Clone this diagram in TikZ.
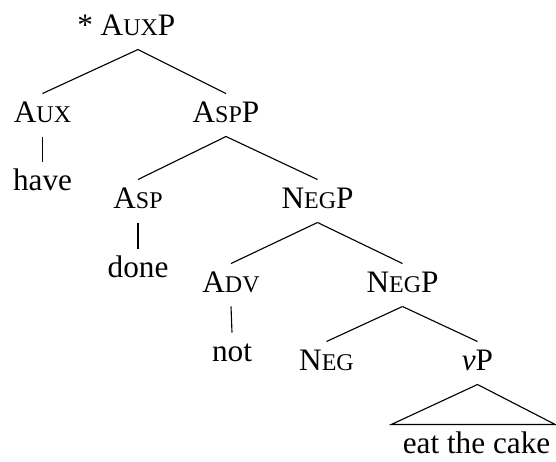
\documentclass[tikz,border=0pt]{standalone}
\usepackage{fontspec}
\setmainfont{Liberation Serif}
\newcommand\SmC[1]{{\fontsize{9.6}{10}\selectfont #1}}
\begin{document}
\begin{tikzpicture}[x=0.4pt,y=-0.4pt,
  lab/.style={anchor=base,font=\fontsize{12.5}{14}\selectfont,inner xsep=0pt,inner ysep=3.2pt,text height=8pt,text depth=2.4pt},
  edge/.style={line width=0.45pt}]
\useasboundingbox (0,0) rectangle (556,462);
\node[lab] (auxp) at (138,35) {\llap{*\ }A\SmC{UX}P};
\node[lab] (aux) at (42.5,122) {A\SmC{UX}};
\node[lab] (aspp) at (226,122) {A\SmC{SP}P};
\node[lab] (have) at (42.5,190) {have};
\node[lab] (asp) at (138,208) {A\SmC{SP}};
\node[lab] (negp1) at (317.5,208) {N\SmC{EG}P};
\node[lab] (done) at (138,277) {done};
\node[lab] (adv) at (231,292) {A\SmC{DV}};
\node[lab] (negp2) at (402.5,292) {N\SmC{EG}P};
\node[lab] (not) at (232,361) {not};
\node[lab] (neg) at (326.5,370) {N\SmC{EG}};
\node[lab] (vp) at (477.5,370) {\textit{v}P};
\node[lab] (etc) at (476.5,453) {eat the cake};
\draw[edge] (auxp.south) -- (aux.north);
\draw[edge] (auxp.south) -- (aspp.north);
\draw[edge] (aux.south) -- (have.north);
\draw[edge] (aspp.south) -- (asp.north);
\draw[edge] (aspp.south) -- (negp1.north);
\draw[edge] (asp.south) -- (done.north);
\draw[edge] (negp1.south) -- (adv.north);
\draw[edge] (negp1.south) -- (negp2.north);
\draw[edge] (adv.south) -- (not.north);
\draw[edge] (negp2.south) -- (neg.north);
\draw[edge] (negp2.south) -- (vp.north);
\draw[edge] (vp.south) -- ([xshift=-4.4pt]etc.north west) -- ([xshift=1.8pt]etc.north east) -- cycle;
\end{tikzpicture}
\end{document}
